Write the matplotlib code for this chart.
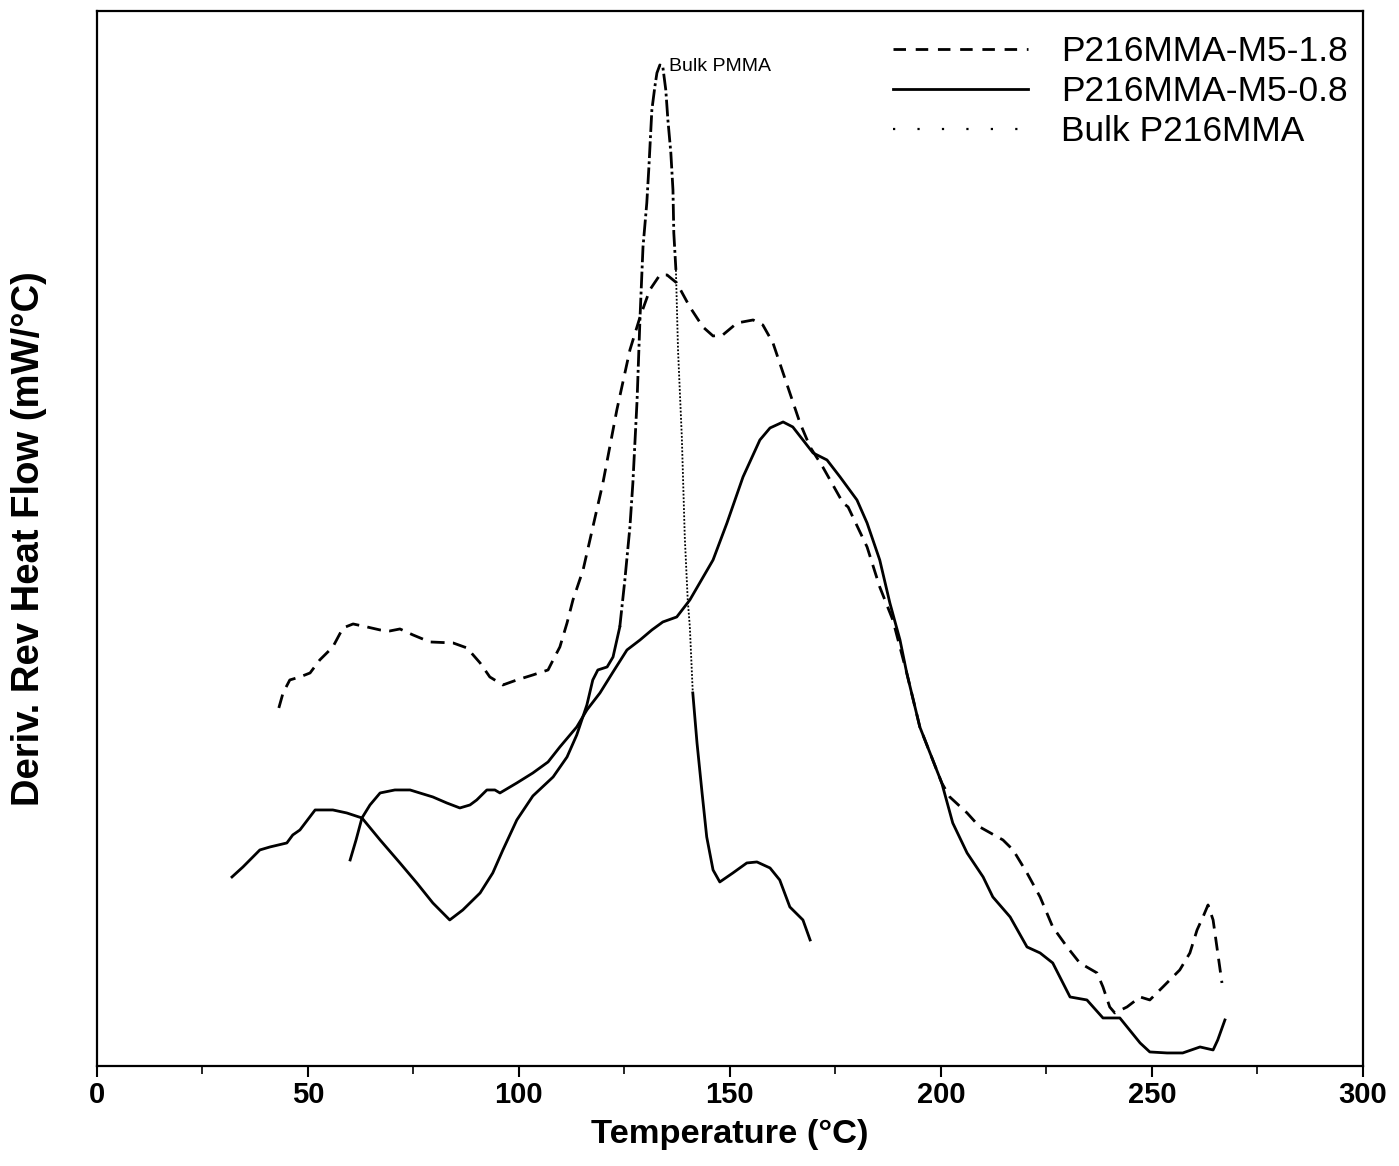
import numpy as np
import matplotlib.pyplot as plt
from matplotlib.lines import Line2D
from matplotlib.ticker import MultipleLocator

# P216MMA-M5-1.8 (dashed)
t_m18 = [43.1, 44.1, 45.7, 48.1, 50.5, 52.8, 55.9, 58.3, 60.7, 64.0, 67.1, 69.4, 71.8, 74.9,
         78.9, 84.4, 87.7, 90.8, 93.1, 96.2, 99.5, 103.3, 106.9, 108.1, 109.7, 111.4, 112.8,
         115.2, 119.9, 123.2, 126.3, 128.7, 131.0, 133.4, 135.1, 137.4, 140.5, 143.6, 146.0,
         148.3, 151.7, 155.5, 157.8, 160.2, 162.6, 164.2, 166.6, 169.0, 172.0, 176.8, 178.0,
         182.5, 185.5, 188.6, 191.9, 195.0, 200.2, 202.1, 206.2, 209.2, 214.7, 217.1, 220.4,
         223.5, 226.5, 229.9, 232.9, 237.0, 238.4, 240.0, 241.2, 244.1, 247.2, 249.5, 252.6,
         256.6, 259.0, 260.7, 262.1, 263.3, 264.5, 265.4, 266.6]
y_m18 = [35.8, 37.3, 38.6, 38.9, 39.3, 40.6, 41.9, 43.8, 44.2, 43.9, 43.6, 43.5, 43.7, 43.1,
         42.4, 42.3, 41.8, 40.3, 38.9, 38.1, 38.6, 39.1, 39.6, 40.6, 41.9, 44.3, 46.6,
         49.6, 58.3, 65.6, 71.6, 74.9, 77.6, 79.1, 79.1, 78.3, 75.9, 73.9, 73.0,
         73.1, 74.3, 74.6, 74.1, 72.3, 69.3, 67.3, 64.3, 61.9, 59.9, 56.3, 55.9,
         51.9, 47.9, 44.6, 39.3, 33.9, 28.3, 26.9, 25.3, 23.9, 22.6, 21.6, 19.3,
         16.9, 13.9, 11.9, 10.3, 9.3, 7.9, 5.9, 5.3, 5.9, 6.9, 6.6, 7.9,
         9.6, 11.3, 13.6, 14.9, 16.1, 14.6, 11.9, 8.3]

# P216MMA-M5-0.8 (solid)
t_m08 = [60.0, 61.4, 62.8, 64.7, 67.1, 70.6, 74.2, 76.5, 79.6, 82.9, 86.0, 88.4, 90.0, 92.4,
         94.3, 95.5, 97.9, 99.5, 103.3, 106.9, 109.7, 113.7, 116.1, 119.2, 122.3, 125.6,
         128.7, 131.5, 134.1, 137.4, 140.5, 146.0, 149.3, 153.1, 157.1, 159.5, 162.6, 164.9,
         169.7, 173.0, 176.1, 180.1, 182.5, 185.5, 187.9, 190.3, 191.9, 195.0, 200.2, 202.8,
         206.2, 210.0, 212.3, 216.4, 220.4, 223.5, 226.5, 230.6, 234.6, 238.4, 242.4, 247.2,
         249.5, 253.6, 257.3, 261.4, 264.5, 265.6, 267.3]
y_m08 = [20.6, 22.6, 24.8, 26.1, 27.3, 27.6, 27.6, 27.3, 26.9, 26.3, 25.8, 26.1, 26.6, 27.6,
         27.6, 27.3, 27.9, 28.3, 29.3, 30.4, 31.9, 33.9, 35.6, 37.3, 39.4, 41.6,
         42.6, 43.6, 44.4, 44.9, 46.6, 50.6, 54.3, 58.9, 62.6, 63.8, 64.4, 63.9,
         61.3, 60.6, 58.9, 56.6, 54.3, 50.6, 46.3, 42.6, 39.3, 33.9, 28.3, 24.3,
         21.3, 18.9, 16.9, 14.9, 11.9, 11.3, 10.3, 6.9, 6.6, 4.8, 4.8, 2.3,
         1.4, 1.3, 1.3, 1.9, 1.6, 2.6, 4.6]

# Bulk PMMA (solid, with broken line styles around the peak)
t_bulk = [32.0, 34.6, 38.6, 41.0, 45.0, 46.4, 48.1, 51.7, 55.9, 59.2, 62.8, 67.1, 71.8, 75.8,
          79.6, 83.6, 86.7, 90.8, 93.8, 96.2, 99.5, 103.3, 108.1, 111.4, 113.7, 116.1, 117.5,
          118.7, 120.9, 122.3, 123.9, 125.1, 126.3, 127.0, 128.0, 128.7, 129.4, 130.3, 130.8,
          131.5, 132.2, 132.7, 133.4, 134.1, 134.8, 135.3, 136.0, 136.5, 136.7, 137.2, 137.7,
          138.6, 139.3, 140.0, 140.5, 141.2, 142.2, 143.4, 144.5, 146.0, 147.6, 150.7, 154.0,
          156.4, 159.5, 161.8, 164.2, 167.3, 169.0]
y_bulk = [18.9, 19.9, 21.6, 21.9, 22.3, 23.1, 23.6, 25.6, 25.6, 25.3, 24.8, 22.6, 20.3, 18.3,
          16.3, 14.6, 15.6, 17.3, 19.3, 21.6, 24.6, 27.0, 28.9, 30.9, 33.1, 36.1, 38.6,
          39.6, 39.9, 40.9, 43.9, 48.6, 53.9, 58.3, 66.6, 74.9, 81.9, 86.3, 89.9,
          95.6, 97.9, 99.3, 100.1, 99.9, 97.6, 94.6, 91.3, 87.6, 83.3, 79.6, 71.6,
          62.9, 52.9, 46.6, 43.9, 37.3, 32.3, 27.3, 22.9, 19.6, 18.4, 19.3, 20.3,
          20.4, 19.8, 18.6, 15.9, 14.6, 12.6]

legend_labels = ["P216MMA-M5-1.8", "P216MMA-M5-0.8", "Bulk P216MMA"]
peak_label = "Bulk PMMA"
x_ticks = [0, 50, 100, 150, 200, 250, 300]

plt.rcParams['font.family'] = ['Liberation Sans', 'DejaVu Sans']

fig = plt.figure(figsize=(13.99, 11.66), dpi=100)
ax = fig.add_axes([0.0693, 0.0858, 0.9049, 0.9048])

lw = 2.0
ax.plot(t_m18, y_m18, color='black', lw=lw, dashes=(5, 3))
ax.plot(t_m08, y_m08, color='black', lw=lw)

# bulk curve: solid, dash-dot near the peak, dotted on the falling flank, solid again
tb = np.array(t_bulk); yb = np.array(y_bulk)
i1 = int(np.searchsorted(tb, 123.9))
i2 = int(np.searchsorted(tb, 137.2))
i3 = int(np.searchsorted(tb, 141.2))
ax.plot(tb[:i1 + 1], yb[:i1 + 1], color='black', lw=lw)
ax.plot(tb[i1:i2 + 1], yb[i1:i2 + 1], color='black', lw=lw, dashes=(6, 1.2, 1, 1.2))
ax.plot(tb[i2:i3 + 1], yb[i2:i3 + 1], color='black', lw=1.3, dashes=(1, 1))
ax.plot(tb[i3:], yb[i3:], color='black', lw=lw)

ax.text(135.6, 99.9, peak_label, fontsize=14, va='center', ha='left')

ax.set_xlim(0, 300)
ax.set_ylim(0, 105.5)
ax.set_xticks(x_ticks)
ax.xaxis.set_minor_locator(MultipleLocator(25))
ax.set_yticks([])
ax.tick_params(axis='x', which='major', direction='out', length=8, width=1.5, pad=3)
ax.tick_params(axis='x', which='minor', direction='out', length=6, width=1.2)
ax.set_xticklabels([str(v) for v in x_ticks], fontsize=21, fontweight='bold')
for s in ax.spines.values():
    s.set_linewidth(1.6)

ax.set_xlabel("Temperature (°C)", fontsize=24.8, fontweight='bold', labelpad=7)
ax.set_ylabel("Deriv. Rev Heat Flow (mW/°C)", fontsize=27.5, fontweight='bold', labelpad=36)

handles = [Line2D([], [], color='black', lw=lw, dashes=(4.5, 3.5)),
           Line2D([], [], color='black', lw=lw),
           Line2D([], [], color='black', lw=1.6, dashes=(1, 10))]
ax.legend(handles, legend_labels, loc='upper left', bbox_to_anchor=(0.6288, 0.977),
          frameon=False, fontsize=25.5, handlelength=3.8, handletextpad=0.95,
          labelspacing=0.2, borderpad=0, borderaxespad=0)

fig.savefig("out.png", dpi=100)
